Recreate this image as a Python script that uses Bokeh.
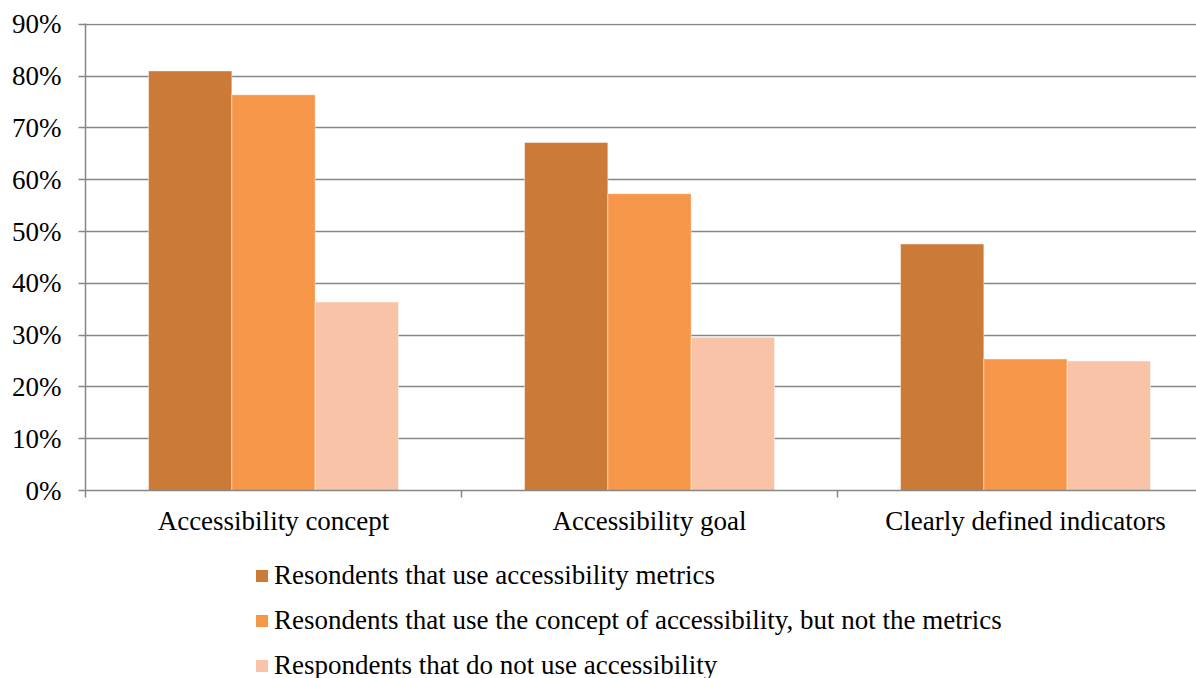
from bokeh.plotting import figure
from bokeh.layouts import column
from bokeh.models import (ColumnDataSource, Range1d, FixedTicker, Legend, LegendItem)
from bokeh.embed import file_html
from bokeh.resources import INLINE

# Survey results: share of respondents per group and topic
categories = ["Accessibility concept", "Accessibility goal", "Clearly defined indicators"]
series_names = [
    "Resondents that use accessibility metrics",
    "Resondents that use the concept of accessibility, but not the metrics",
    "Respondents that do not use accessibility",
]
metrics_users = [0.810, 0.672, 0.476]
concept_only = [0.764, 0.573, 0.254]
non_users = [0.364, 0.296, 0.250]
series_values = [metrics_users, concept_only, non_users]
colors = ["#CB7A38", "#F69648", "#F9C3A8"]

y_ticks = [0.0, 0.1, 0.2, 0.3, 0.4, 0.5, 0.6, 0.7, 0.8, 0.9]
y_tick_labels = ["0%", "10%", "20%", "30%", "40%", "50%", "60%", "70%", "80%", "90%"]

FONT = "Liberation Serif"
FS = "27px"
GRID = "#878787"

p = figure(width=1196, height=545, output_backend="svg", toolbar_location=None,
           x_range=Range1d(0, 1111 / 376), y_range=Range1d(0, 0.9016),
           min_border_left=85, min_border_right=0, min_border_top=23,
           min_border_bottom=55)
p.outline_line_color = None
p.background_fill_color = "white"
p.border_fill_color = "white"

bar_w = 0.2216
offsets = [0.2784, 0.5, 0.7216]
for vals, col, off in zip(series_values, colors, offsets):
    src = ColumnDataSource(dict(x=[i + off for i in range(len(categories))], top=vals))
    p.vbar(x="x", top="top", width=bar_w, bottom=0, source=src,
           fill_color=col, line_color="white", line_alpha=0.45, line_width=1)

# x axis: labels at category centres, boundary ticks as minor ticks
xa = p.xaxis[0]
xa.ticker = FixedTicker(ticks=[i + 0.5 for i in range(len(categories))],
                        minor_ticks=list(range(len(categories) + 1)))
xa.major_label_overrides = {i + 0.5: c for i, c in enumerate(categories)}
xa.major_tick_line_color = None
xa.major_tick_out = 0
xa.major_tick_in = 0
xa.minor_tick_out = 7
xa.minor_tick_in = 0
xa.minor_tick_line_color = GRID
xa.minor_tick_line_width = 1.5
xa.axis_line_color = GRID
xa.axis_line_width = 1.5
xa.major_label_text_font = FONT
xa.major_label_text_font_size = FS
xa.major_label_text_color = "black"
xa.major_label_standoff = 8

ya = p.yaxis[0]
ya.ticker = FixedTicker(ticks=y_ticks)
ya.major_label_overrides = {t: l for t, l in zip(y_ticks, y_tick_labels)}
ya.major_tick_out = 7
ya.major_tick_in = 0
ya.minor_tick_line_color = None
ya.major_tick_line_color = GRID
ya.major_tick_line_width = 1.5
ya.axis_line_color = GRID
ya.axis_line_width = 1.5
ya.major_label_text_font = FONT
ya.major_label_text_font_size = FS
ya.major_label_text_color = "black"
ya.major_label_standoff = 17

p.xgrid.grid_line_color = None
p.ygrid.ticker = FixedTicker(ticks=y_ticks)
p.ygrid.grid_line_color = GRID
p.ygrid.grid_line_width = 1.5

# legend strip below the chart (zero-height bars serve as legend keys)
lg = figure(width=1196, height=133, output_backend="svg", toolbar_location=None,
            x_range=Range1d(0, 1), y_range=Range1d(0, 1),
            x_axis_location=None, y_axis_location=None,
            min_border_left=0, min_border_right=0, min_border_top=0, min_border_bottom=0)
lg.outline_line_color = None
lg.grid.visible = False
lg.border_fill_color = "white"
swatches = [lg.vbar(x=[0], top=[0], bottom=0, width=0, fill_color=c, line_color=None)
            for c in colors]
legend = Legend(items=[LegendItem(label=n, renderers=[r]) for n, r in zip(series_names, swatches)],
                location=(169, -3), orientation="vertical",
                label_text_font=FONT, label_text_font_size=FS, label_text_color="black",
                glyph_width=15, glyph_height=15, label_standoff=5,
                spacing=14, padding=0, margin=0,
                border_line_color=None, background_fill_alpha=0)
lg.add_layout(legend, "center")

layout = column(p, lg, spacing=0)
open("out.html", "w").write(file_html(layout, INLINE))
